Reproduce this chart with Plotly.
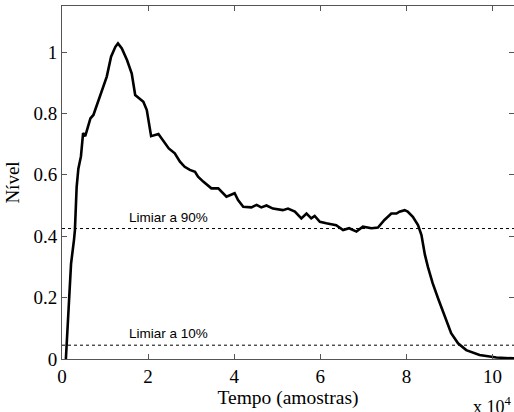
import plotly.graph_objects as go

# curve (x in units of 10^4 samples)
tempo = [0.09, 0.17, 0.21, 0.28, 0.30, 0.34, 0.38, 0.44, 0.49, 0.54, 0.66, 0.73, 0.81,
         0.89, 0.97, 1.04, 1.14, 1.24, 1.30, 1.39, 1.51, 1.62, 1.70, 1.79, 1.89, 1.97,
         2.07, 2.24, 2.36, 2.48, 2.62, 2.74, 2.85, 2.97, 3.09, 3.16, 3.28, 3.47, 3.63,
         3.70, 3.82, 4.01, 4.09, 4.21, 4.40, 4.52, 4.63, 4.75, 4.90, 5.13, 5.25, 5.41,
         5.56, 5.68, 5.79, 5.87, 5.99, 6.14, 6.37, 6.53, 6.67, 6.84, 6.99, 7.19, 7.34,
         7.49, 7.65, 7.77, 7.84, 7.96, 8.03, 8.15, 8.27, 8.35, 8.43, 8.50, 8.61, 8.75,
         8.89, 9.04, 9.20, 9.39, 9.70, 10.09, 10.5]
nivel = [0.0, 0.19, 0.31, 0.39, 0.42, 0.56, 0.62, 0.66, 0.736, 0.726, 0.784, 0.795, 0.827,
         0.86, 0.887, 0.92, 0.985, 1.017, 1.028, 1.012, 0.974, 0.93, 0.86, 0.849, 0.838, 0.811,
         0.726, 0.733, 0.708, 0.686, 0.67, 0.643, 0.626, 0.616, 0.61, 0.594, 0.578, 0.556, 0.556,
         0.545, 0.529, 0.54, 0.518, 0.496, 0.494, 0.502, 0.494, 0.5, 0.49, 0.485, 0.49, 0.48,
         0.458, 0.474, 0.458, 0.466, 0.447, 0.442, 0.436, 0.42, 0.426, 0.415, 0.431, 0.426, 0.428,
         0.453, 0.474, 0.474, 0.48, 0.485, 0.48, 0.463, 0.436, 0.404, 0.34, 0.30, 0.247, 0.192,
         0.138, 0.084, 0.051, 0.029, 0.013, 0.005, 0.002]

limiar_90 = 0.425
limiar_10 = 0.045
x_range = [0, 10.5]
y_range = [0, 1.15]

serif = "Liberation Serif"
sans = "Liberation Sans"

fig = go.Figure()
fig.add_trace(go.Scatter(x=tempo, y=nivel, mode="lines",
                         line=dict(color="black", width=2.6), showlegend=False))
for lv in [limiar_90, limiar_10]:
    fig.add_trace(go.Scatter(x=x_range, y=[lv, lv], mode="lines",
                             line=dict(color="black", width=1, dash="dot"), showlegend=False))

fig.add_annotation(x=2.48, y=limiar_90, text="Limiar a 90%", showarrow=False,
                   yanchor="bottom", yshift=2, font=dict(family=sans, size=13.5, color="black"))
fig.add_annotation(x=2.48, y=limiar_10, text="Limiar a 10%", showarrow=False,
                   yanchor="bottom", yshift=2, font=dict(family=sans, size=13.5, color="black"))
fig.add_annotation(x=1, y=0, xref="paper", yref="paper", xanchor="right", yanchor="top",
                   yshift=-33, text="x 10<sup>4</sup>", showarrow=False,
                   font=dict(family=serif, size=18, color="black"))

axis_style = dict(showline=True, linecolor="#555", linewidth=1, mirror="ticks",
                  ticks="inside", ticklen=5, tickcolor="#555", showgrid=False,
                  zeroline=False, tickfont=dict(family=serif, size=19, color="black"))
fig.update_xaxes(range=x_range, tickvals=[0, 2, 4, 6, 8, 10],
                 title=dict(text="Tempo (amostras)", standoff=0,
                            font=dict(family=serif, size=19.5, color="black")),
                 **axis_style)
fig.update_yaxes(range=y_range, tickvals=[0, 0.2, 0.4, 0.6, 0.8, 1],
                 ticktext=["0", "0.2", "0.4", "0.6", "0.8", "1"],
                 title=dict(text="Nível", standoff=8,
                            font=dict(family=serif, size=19, color="black")),
                 **axis_style)
fig.update_layout(width=514, height=412, margin=dict(l=62, r=0, t=6, b=53),
                  plot_bgcolor="white", paper_bgcolor="white",
                  font=dict(family=serif, size=19, color="black"))
# page body has a default 8px margin; drop it so the figure sits at the corner
fig.write_html("out.html", config={"displayModeBar": False},
               post_script="document.body.style.margin='0';")
